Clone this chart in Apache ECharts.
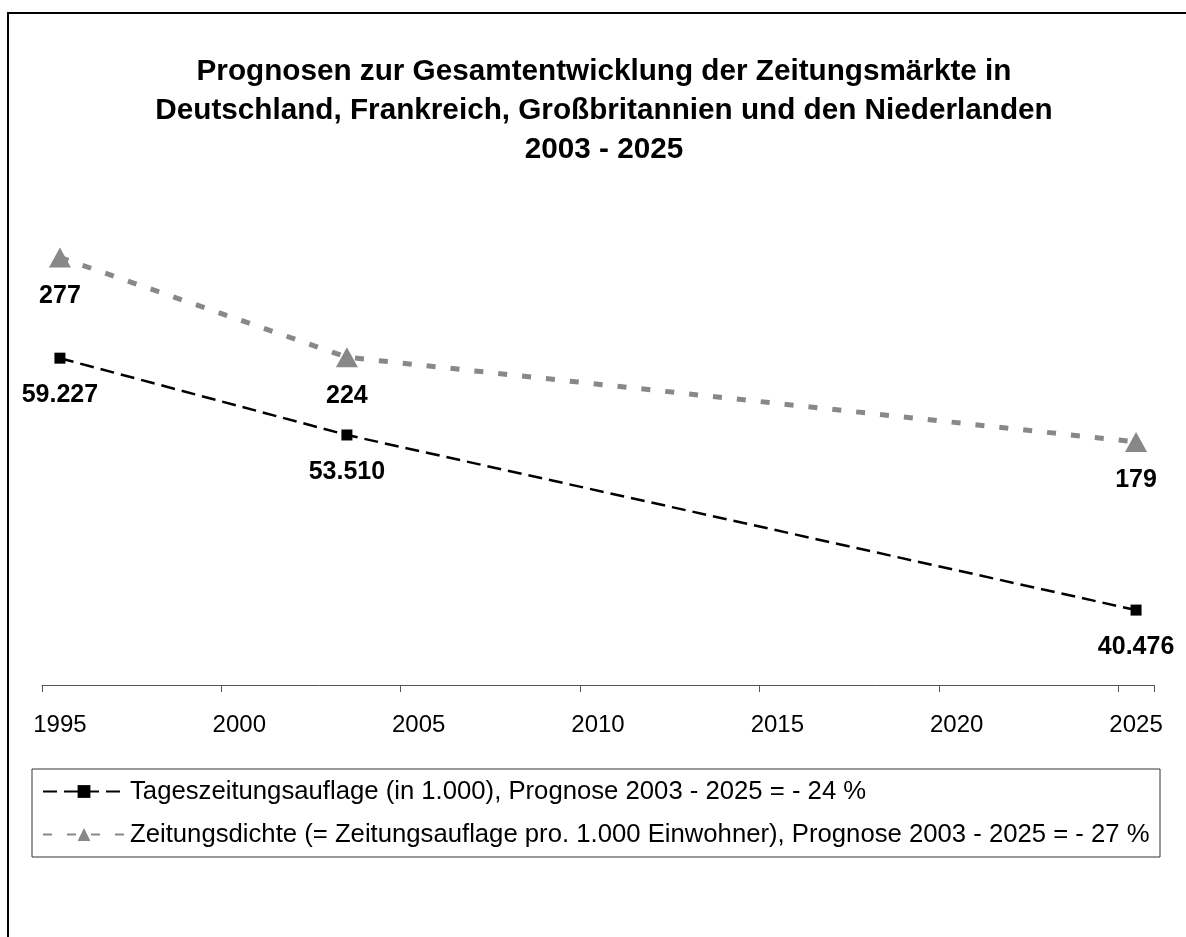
<!DOCTYPE html>
<html>
<head>
<meta charset="utf-8">
<script src="https://cdn.jsdelivr.net/npm/echarts@6/dist/echarts.min.js"></script>
<style>
  html, body { margin: 0; padding: 0; background: #fff; }
  #chart { width: 1186px; height: 937px; }
</style>
</head>
<body>
<div id="chart"></div>
<script>
  // Jahre auf der x-Achse (Kategorien 1995..2025)
  var years = [];
  for (var y = 1995; y <= 2025; y++) years.push(String(y));

  // Stützjahre mit Werten
  var pointYears = ['1995', '2003', '2025'];
  var auflage = [59.227, 53.510, 40.476];   // Tageszeitungsauflage (in 1.000)
  var dichte = [277, 224, 179];             // Zeitungsdichte

  var auflageLabels = ['59.227', '53.510', '40.476'];
  var dichteLabels = ['277', '224', '179'];

  var seriesNames = [
    'Tageszeitungsauflage (in 1.000), Prognose 2003 - 2025 = - 24 %',
    'Zeitungsdichte (= Zeitungsauflage pro. 1.000 Einwohner), Prognose 2003 - 2025 = - 27 %'
  ];

  var font = 'Arial, "Liberation Sans", sans-serif';

  var myChart = echarts.init(document.getElementById('chart'));
  myChart.setOption({
    animation: false,
    backgroundColor: '#fff',
    title: {
      text: 'Prognosen zur Gesamtentwicklung der Zeitungsmärkte in\nDeutschland, Frankreich, Großbritannien und den Niederlanden\n2003 - 2025',
      left: 599,
      top: 47,
      textAlign: 'center',
      textStyle: {
        fontFamily: font,
        fontSize: 29.7,
        fontWeight: 'bold',
        color: '#000',
        lineHeight: 39
      }
    },
    legend: {
      orient: 'vertical',
      left: 42,
      top: 776,
      padding: 0,
      itemGap: 12,
      itemWidth: 82,
      itemHeight: 16,
      textStyle: {
        fontFamily: font,
        fontSize: 25.7,
        color: '#000',
        lineHeight: 31
      },
      data: seriesNames
    },
    grid: {
      left: 42,
      right: 32,
      top: 200,
      bottom: 252
    },
    xAxis: {
      type: 'category',
      data: years,
      boundaryGap: true,
      axisLine: { show: true, lineStyle: { color: '#555', width: 1 } },
      axisTick: {
        show: true,
        inside: false,
        interval: 4,
        alignWithLabel: false,
        length: 7,
        lineStyle: { color: '#555', width: 1 }
      },
      axisLabel: {
        interval: 4,
        margin: 28,
        fontFamily: font,
        fontSize: 24,
        color: '#000'
      },
      splitLine: { show: false }
    },
    yAxis: [
      { type: 'value', min: 34.9, max: 71.0, show: false, splitLine: { show: false } },
      { type: 'value', min: 49.9, max: 307.5, show: false, splitLine: { show: false } }
    ],
    series: [
      {
        name: seriesNames[0],
        type: 'line',
        yAxisIndex: 0,
        symbol: 'rect',
        symbolSize: 11,
        itemStyle: { color: '#000' },
        lineStyle: { color: '#000', width: 2.5, type: [14, 7] },
        label: {
          show: true,
          position: 'bottom',
          distance: 19,
          fontFamily: font,
          fontSize: 25,
          fontWeight: 'bold',
          color: '#000',
          formatter: function (p) { return auflageLabels[p.dataIndex]; }
        },
        data: pointYears.map(function (yr, i) { return [yr, auflage[i]]; })
      },
      {
        name: seriesNames[1],
        type: 'line',
        yAxisIndex: 1,
        symbol: 'triangle',
        symbolSize: [22, 20],
        itemStyle: { color: '#888' },
        lineStyle: { color: '#888', width: 5, type: [9, 15] },
        label: {
          show: true,
          position: 'bottom',
          distance: 16,
          fontFamily: font,
          fontSize: 25,
          fontWeight: 'bold',
          color: '#000',
          formatter: function (p) { return dichteLabels[p.dataIndex]; }
        },
        data: pointYears.map(function (yr, i) { return [yr, dichte[i]]; })
      }
    ],
    graphic: [
      {
        type: 'rect',
        shape: { x: 8, y: 13, width: 2000, height: 2000 },
        style: { fill: 'none', stroke: '#000', lineWidth: 2 },
        silent: true
      },
      {
        type: 'rect',
        shape: { x: 32, y: 769, width: 1128, height: 88 },
        style: { fill: 'none', stroke: '#333', lineWidth: 1 },
        silent: true
      }
    ]
  });
</script>
</body>
</html>
